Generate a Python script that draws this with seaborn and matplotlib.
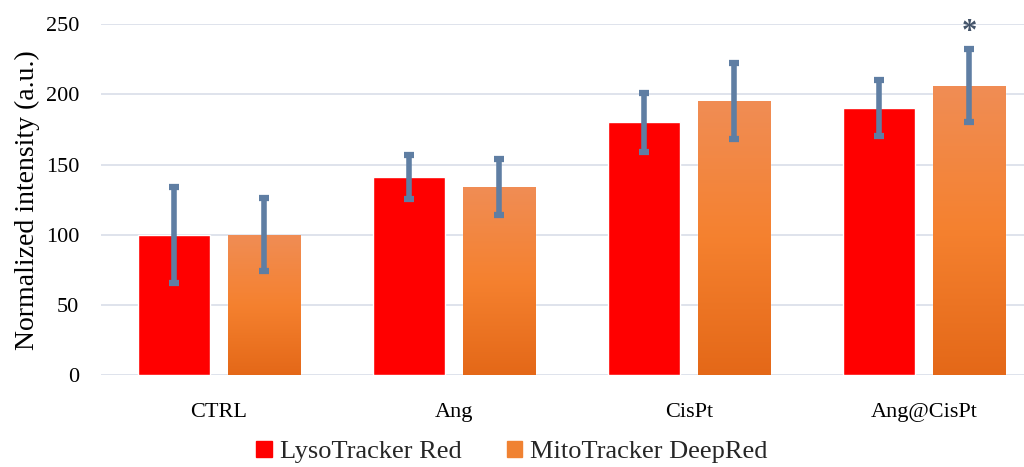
import numpy as np
import pandas as pd
import matplotlib
matplotlib.use("Agg")
import matplotlib.pyplot as plt
import seaborn as sns
from matplotlib.colors import LinearSegmentedColormap
from matplotlib.patches import Patch

groups = ["CTRL", "Ang", "CisPt", "Ang@CisPt"]
series = ["LysoTracker Red", "MitoTracker DeepRed"]
lyso = [100, 141, 180, 190]
lyso_err = [34, 15.5, 21, 20]
mito = [100, 134, 195, 206]
mito_err = [26, 20, 27, 26]
star_y = 244

df = pd.DataFrame({
    "group": groups * 2,
    "series": [series[0]] * 4 + [series[1]] * 4,
    "value": lyso + mito,
})

sns.set_style("white")
plt.rcParams['font.family'] = ['Liberation Serif', 'DejaVu Serif']

fig = plt.figure(figsize=(10.24, 4.67), dpi=100)
# axes runs a bit past the right edge, like the original
ax = fig.add_axes([0.0991, 0.196, 0.918, 0.7526])

pal = {series[0]: "#FF0000", series[1]: "#F08232"}
sns.barplot(data=df, x="group", y="value", hue="series", palette=pal,
            errorbar=None, width=0.766, gap=0.19, saturation=1, ax=ax, zorder=2)

ax.yaxis.grid(True, color="#D9DEE9", linewidth=1.2, zorder=0)
ax.set_axisbelow(True)
for s in ax.spines.values():
    s.set_visible(False)

# gradient on orange bars
cmap = LinearSegmentedColormap.from_list("og", ["#E46818", "#F5812F", "#F08D55"])
grad = np.linspace(0, 1, 256).reshape(-1, 1)
for p in ax.containers[1]:
    x0, w, h = p.get_x(), p.get_width(), p.get_height()
    im = ax.imshow(grad, cmap=cmap, origin="lower", aspect="auto",
                   extent=[x0, x0 + w, 0, h], zorder=2)
    im.set_clip_path(p)
ax.set_xlim(-0.5, 3.5)
ax.set_ylim(0, 250)
ax.set_yticks([0, 50, 100, 150, 200, 250])

errc = "#5F7EA3"
for cont, vals, errs in [(ax.containers[0], lyso, lyso_err), (ax.containers[1], mito, mito_err)]:
    xs = [p.get_x() + p.get_width() / 2 for p in cont]
    ax.errorbar(xs, vals, yerr=errs, fmt="none", ecolor=errc, elinewidth=4,
                capsize=3.5, capthick=4.5, zorder=4)

xlast = ax.containers[1][3].get_x() + ax.containers[1][3].get_width() / 2
ax.text(xlast, star_y, "*", ha="center", va="center", fontsize=22,
        color="#44546A", fontweight="bold", zorder=5)

ax.set_xlabel("")
ax.set_ylabel("Normalized intensity (a.u.)", fontsize=20, color="#000000")
ax.yaxis.set_label_coords(-0.065, 0.5)
ax.tick_params(axis="both", labelsize=16, length=0, colors="#000000")
ax.tick_params(axis="y", pad=16)
ax.tick_params(axis="x", pad=20)

ax.legend_.remove()
handles = [Patch(color="#FF0000"), Patch(color="#F08232")]
fig.legend(handles, series, loc="center", bbox_to_anchor=(0.5, 0.032), ncol=2,
           frameon=False, fontsize=19, handlelength=0.6, handleheight=0.6,
           handletextpad=0.3, columnspacing=1.7, borderpad=0)

fig.savefig("out.png", dpi=100)
